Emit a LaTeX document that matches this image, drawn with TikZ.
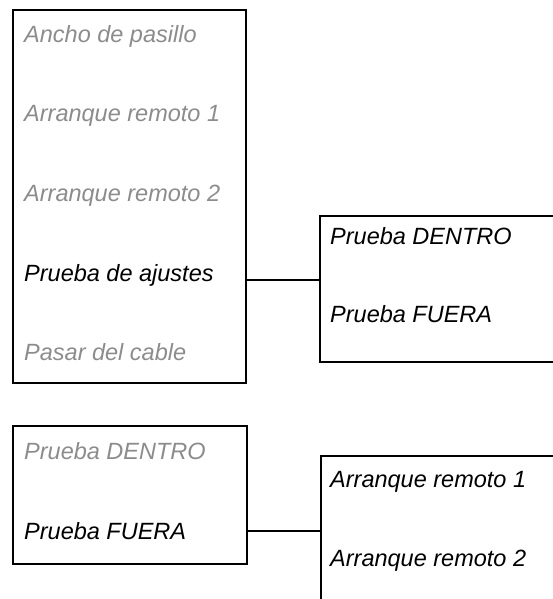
\documentclass[tikz,border=0pt]{standalone}
\usepackage{fontspec}
\setmainfont{Liberation Sans}
\definecolor{dim}{RGB}{140,140,140}
\begin{document}
\begin{tikzpicture}[x=1bp,y=-1bp,
  box/.style={draw=black,line width=2bp,rectangle,inner sep=0pt,outer sep=0pt},
  item/.style={anchor=base west,inner sep=0pt,font=\fontsize{23.5bp}{28bp}\selectfont\itshape},
  off/.style={item,text=dim},
  on/.style={item,text=black},
  link/.style={draw=black,line width=2bp}]
\useasboundingbox (0,0) rectangle (553,599);
\clip (0,0) rectangle (553,599);
% boxes
\node[box,minimum width=233bp,minimum height=373bp] (m1) at (129.5,196.5) {};
\node[box,minimum width=280bp,minimum height=146bp] (m2) at (460,289) {};
\node[box,minimum width=234bp,minimum height=138bp] (m3) at (130,495) {};
\node[box,minimum width=279bp,minimum height=184bp] (m4) at (460.5,548) {};
% texts
\node[off] (a1) at (24,43) {Ancho de pasillo};
\node[off] (a2) at (24,122) {Arranque remoto 1};
\node[off] (a3) at (24,201) {Arranque remoto 2};
\node[on]  (a4) at (24,281) {Prueba de ajustes};
\node[off] (a5) at (24,360) {Pasar del cable};
\node[on] (b1) at (330,244) {Prueba DENTRO};
\node[on] (b2) at (330,322) {Prueba FUERA};
\node[off] (c1) at (24,459) {Prueba DENTRO};
\node[on]  (c2) at (24,539) {Prueba FUERA};
\node[on] (d1) at (330,487) {Arranque remoto 1};
\node[on] (d2) at (330,566) {Arranque remoto 2};
% connectors
\coordinate (j1) at (0,280);
\coordinate (j2) at (0,531);
\draw[link] (j1 -| m1.east) -- (j1 -| m2.west);
\draw[link] (j2 -| m3.east) -- (j2 -| m4.west);
\end{tikzpicture}
\end{document}
